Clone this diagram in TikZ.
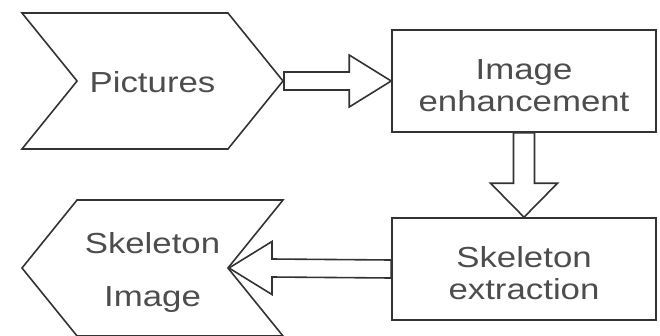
\documentclass[tikz,border=0pt]{standalone}
\usepackage{graphicx}
\usepackage{fontspec}
\setmainfont{Liberation Sans}
\usetikzlibrary{shapes.symbols, positioning}

\definecolor{edgegray}{HTML}{333333}
\definecolor{textgray}{HTML}{4D4D4D}
\newcommand{\wide}[1]{\scalebox{1.2}[1]{#1}}
\newcommand{\lift}[1]{\rule{0pt}{#1}}

\begin{document}
\begin{tikzpicture}[x=1pt, y=-1pt, line width=1.6pt,
  box/.style={draw=edgegray, minimum width=264pt, minimum height=102pt,
    inner sep=0pt, align=center, text=textgray,
    font=\fontsize{29}{32}\selectfont},
  flag/.style={draw=edgegray, shape=signal, signal pointer angle=102,
    minimum width=261pt, minimum height=136pt, inner sep=0pt,
    align=center, text=textgray, font=\fontsize{29}{53}\selectfont},
  fatarrow/.style={draw=edgegray, fill=white, line join=miter}]
  \useasboundingbox (0,0) rectangle (660,335);

  % process boxes
  \node[box] (enh) at (524,81) {\lift{29pt}\wide{Image}\\\wide{enhancement}};
  \node[box] (ext) at (524,269) {\lift{29pt}\wide{Skeleton}\\\wide{extraction}};

  % input and output flags
  \node[flag, signal from=west, signal to=east] (pic) at (152.5,81) {\lift{24pt}\wide{Pictures}};
  \node[flag, signal from=east, signal to=west] (skel) at (152.5,268) {\lift{31pt}\wide{Skeleton}\\\wide{Image}};

  % block arrows
  \draw[fatarrow] ([yshift=9pt]pic.east) -- ([xshift=-42pt,yshift=9pt]enh.west)
    -- ([xshift=-42pt,yshift=26pt]enh.west) -- (enh.west)
    -- ([xshift=-42pt,yshift=-26pt]enh.west) -- ([xshift=-42pt,yshift=-9pt]enh.west)
    -- ([yshift=-9pt]pic.east) -- cycle;
  \draw[fatarrow] ([xshift=-10.5pt]enh.south) -- ([xshift=-10.5pt,yshift=34pt]ext.north)
    -- ([xshift=-33.5pt,yshift=34pt]ext.north) -- (ext.north)
    -- ([xshift=33.5pt,yshift=34pt]ext.north) -- ([xshift=10.5pt,yshift=34pt]ext.north)
    -- ([xshift=10.5pt]enh.south) -- cycle;
  \draw[fatarrow] ([yshift=9pt]ext.west) -- ([xshift=43pt,yshift=9pt]skel.east)
    -- ([xshift=43pt,yshift=26.5pt]skel.east) -- (skel.east)
    -- ([xshift=43pt,yshift=-26.5pt]skel.east) -- ([xshift=43pt,yshift=-9pt]skel.east)
    -- ([yshift=-9pt]ext.west) -- cycle;
\end{tikzpicture}
\end{document}
